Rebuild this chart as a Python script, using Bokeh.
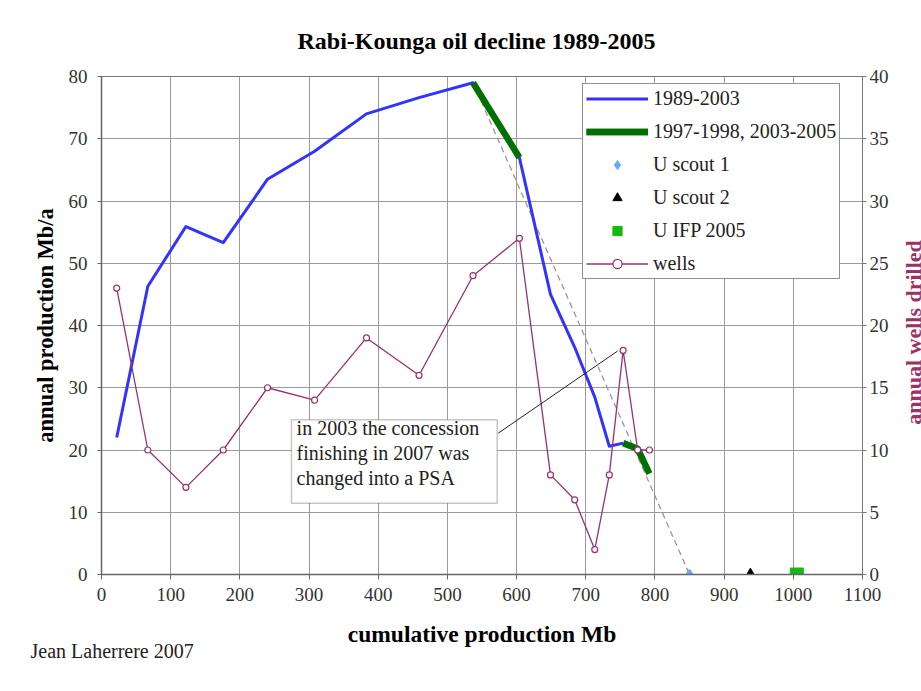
import math
from bokeh.plotting import figure
from bokeh.layouts import row
from bokeh.models import (Range1d, LinearAxis, SingleIntervalTicker, Legend,
                          LegendItem, Label, BoxAnnotation, ColumnDataSource, Title)
from bokeh.embed import file_html
from bokeh.resources import INLINE

# ---------------- data ----------------
years = list(range(1989, 2006))
cum_prod = [22, 67, 122, 176, 240, 308, 383, 459, 537, 604, 649, 684, 713, 734, 754, 775, 792]
annual_prod = [22.0, 46.3, 55.9, 53.3, 63.5, 68.0, 74.0, 76.6, 79.0, 67.0, 45.0, 36.5,
               28.5, 20.6, 21.1, 20.2, 16.2]
wells = [23, 10, 7, 10, 15, 14, 19, 16, 24, 27, 8, 6, 2, 8, 18, 10, 10]

trend_x = [537, 850]
trend_y = [79, 0]

scout1_x, scout1_y = [850], [0]
scout2_x, scout2_y = [938], [0]
ifp_x, ifp_y = [1005], [0]

x_ticks_interval = 100
y_ticks_interval = 10
wells_ticks_interval = 5

note_text = "in 2003 the concession\nfinishing in 2007 was\nchanged into a PSA"
note_box = dict(left=274.6, right=572.0, top=24.85, bottom=11.45)
note_text_pos = (282.0, 25.3)
note_leader_x = [573.5, 746.0]
note_leader_y = [22.7, 35.9]

SERIF = "Liberation Serif, Times New Roman, Times, serif"
PLUM = "#993366"
TOTAL_H = 680

# ---------------- figure ----------------
p = figure(frame_width=761, frame_height=498, output_backend="svg", toolbar_location=None,
           x_range=Range1d(0, 1100), y_range=Range1d(0, 80),
           min_border_left=101, min_border_right=37, min_border_top=76,
           min_border_bottom=106)
p.extra_y_ranges = {"wells": Range1d(0, 40)}
p.background_fill_color = "white"
p.border_fill_color = "white"
p.outline_line_color = "#7a7a7a"
p.outline_line_width = 1

p.title.text = "Rabi-Kounga oil decline 1989-2005"
p.title.align = "left"
p.title.offset = 196
p.title.vertical_align = "top"
p.title.text_font = SERIF
p.title.text_font_style = "bold"
p.title.text_font_size = "24px"
p.title.text_color = "black"
p.title.standoff = 41

# axes
for ax in (p.xaxis[0], p.yaxis[0]):
    ax.major_label_text_font = SERIF
    ax.major_label_text_font_size = "19px"
    ax.major_label_text_color = "#333333"
    ax.axis_line_color = "#666666"
    ax.axis_line_width = 1.5
    ax.major_tick_line_color = "#666666"
    ax.major_tick_in = 0
    ax.major_tick_out = 4
    ax.minor_tick_line_color = None
    ax.axis_label_text_font = SERIF
    ax.axis_label_text_font_style = "bold"
    ax.axis_label_text_color = "black"

p.xaxis[0].ticker = SingleIntervalTicker(interval=x_ticks_interval)
p.yaxis[0].ticker = SingleIntervalTicker(interval=y_ticks_interval)
p.xaxis[0].axis_label = "cumulative production Mb"
p.xaxis[0].axis_label_text_font_size = "23.5px"
p.xaxis[0].major_tick_out = 5
p.xaxis[0].major_label_standoff = 8
p.xaxis[0].axis_label_standoff = 17
p.yaxis[0].axis_label = "annual production Mb/a"
p.yaxis[0].axis_label_text_font_size = "22.5px"
p.yaxis[0].major_label_standoff = 10
p.yaxis[0].axis_label_standoff = 8

raxis = LinearAxis(y_range_name="wells", ticker=SingleIntervalTicker(interval=wells_ticks_interval))
raxis.major_label_text_font = SERIF
raxis.major_label_text_font_size = "19px"
raxis.major_label_text_color = "#333333"
raxis.axis_line_color = "#777777"
raxis.major_tick_line_color = "#777777"
raxis.major_tick_in = 0
raxis.major_tick_out = 4
raxis.major_label_standoff = 3
raxis.minor_tick_line_color = None
p.add_layout(raxis, "right")

p.xgrid.ticker = SingleIntervalTicker(interval=x_ticks_interval)
p.ygrid.ticker = SingleIntervalTicker(interval=y_ticks_interval)
p.xgrid.grid_line_color = "#9a9a9a"
p.ygrid.grid_line_color = "#9a9a9a"
p.xgrid.grid_line_width = 1
p.ygrid.grid_line_width = 1

# ---------------- glyphs ----------------
p.line(trend_x, trend_y, line_color="#999999", line_width=1.3, line_dash="6 4")

blue_src = ColumnDataSource(dict(x=cum_prod[:15], y=annual_prod[:15]))
blue = p.line("x", "y", source=blue_src, line_color="#3333FF", line_width=3,
              line_join="round")

g1 = p.line(cum_prod[8:10], annual_prod[8:10], line_color="#007000", line_width=6.5)
g2 = p.line(cum_prod[14:17], annual_prod[14:17], line_color="#007000", line_width=6.5,
            line_join="round")

wells_src = ColumnDataSource(dict(x=cum_prod, y=wells))
wl = p.line("x", "y", source=wells_src, y_range_name="wells", line_color=PLUM,
            line_width=1.3)
ws = p.scatter("x", "y", source=wells_src, y_range_name="wells", marker="circle",
               size=6, fill_color="white", line_color=PLUM, line_width=1.2)

s1 = p.scatter(scout1_x, scout1_y, marker="diamond", size=11, fill_color="#66AAFF",
               line_color="#66AAFF")
s2 = p.scatter(scout2_x, scout2_y, marker="triangle", size=11, fill_color="black",
               line_color="black")
s3 = p.scatter(ifp_x, ifp_y, marker="square", size=13, fill_color="#11BB11",
               line_color="#11BB11")

# ---------------- annotation ----------------
p.add_layout(BoxAnnotation(left=note_box["left"], right=note_box["right"],
                           top=note_box["top"], bottom=note_box["bottom"],
                           fill_color="white", fill_alpha=1,
                           line_color="#444444", line_width=1.5))
p.line(note_leader_x, note_leader_y, line_color="#222222", line_width=1)
p.add_layout(Label(x=note_text_pos[0], y=note_text_pos[1], text=note_text,
                   text_font=SERIF, text_font_size="20px", text_color="#222222",
                   text_baseline="top", text_align="left", text_line_height=1.13))

# ---------------- legend ----------------
legend = Legend(items=[
    LegendItem(label="1989-2003", renderers=[blue]),
    LegendItem(label="1997-1998, 2003-2005", renderers=[g1, g2]),
    LegendItem(label="U scout 1", renderers=[s1]),
    LegendItem(label="U scout 2", renderers=[s2]),
    LegendItem(label="U IFP 2005", renderers=[s3]),
    LegendItem(label="wells", renderers=[wl, ws]),
], location=(481, 295))
legend.label_text_font = SERIF
legend.label_text_font_size = "20px"
legend.label_text_color = "#222222"
legend.glyph_width = 62
legend.glyph_height = 23
legend.label_height = 23
legend.label_standoff = 5
legend.spacing = 10
legend.padding = 3
legend.margin = 0
legend.border_line_color = "#222222"
legend.border_line_width = 1.5
legend.background_fill_color = "white"
legend.background_fill_alpha = 1
p.add_layout(legend)

# ---------------- author credit ----------------
p.add_layout(Title(text="Jean Laherrere 2007", align="left", offset=-71,
                   text_font=SERIF, text_font_style="normal", text_font_size="20px",
                   text_color="#222222", standoff=-23), "below")

# ---------------- strip carrying the right-hand axis title ----------------
side = figure(width=22, height=TOTAL_H, output_backend="svg", toolbar_location=None,
              x_range=Range1d(0, 1), y_range=Range1d(0, 1),
              min_border=0, min_border_left=0, min_border_right=0,
              min_border_top=0, min_border_bottom=0)
side.axis.visible = False
side.grid.visible = False
side.outline_line_color = None
side.background_fill_color = "white"
side.border_fill_color = "white"
side.add_layout(Label(x=14, y=242, x_units="screen", y_units="screen",
                      text="annual wells drilled", angle=math.pi / 2, text_font=SERIF,
                      text_font_style="bold", text_font_size="22px",
                      text_align="center", text_baseline="alphabetic",
                      text_color=PLUM))

layout = row(p, side, spacing=0)
open("out.html", "w").write(file_html(layout, INLINE))
